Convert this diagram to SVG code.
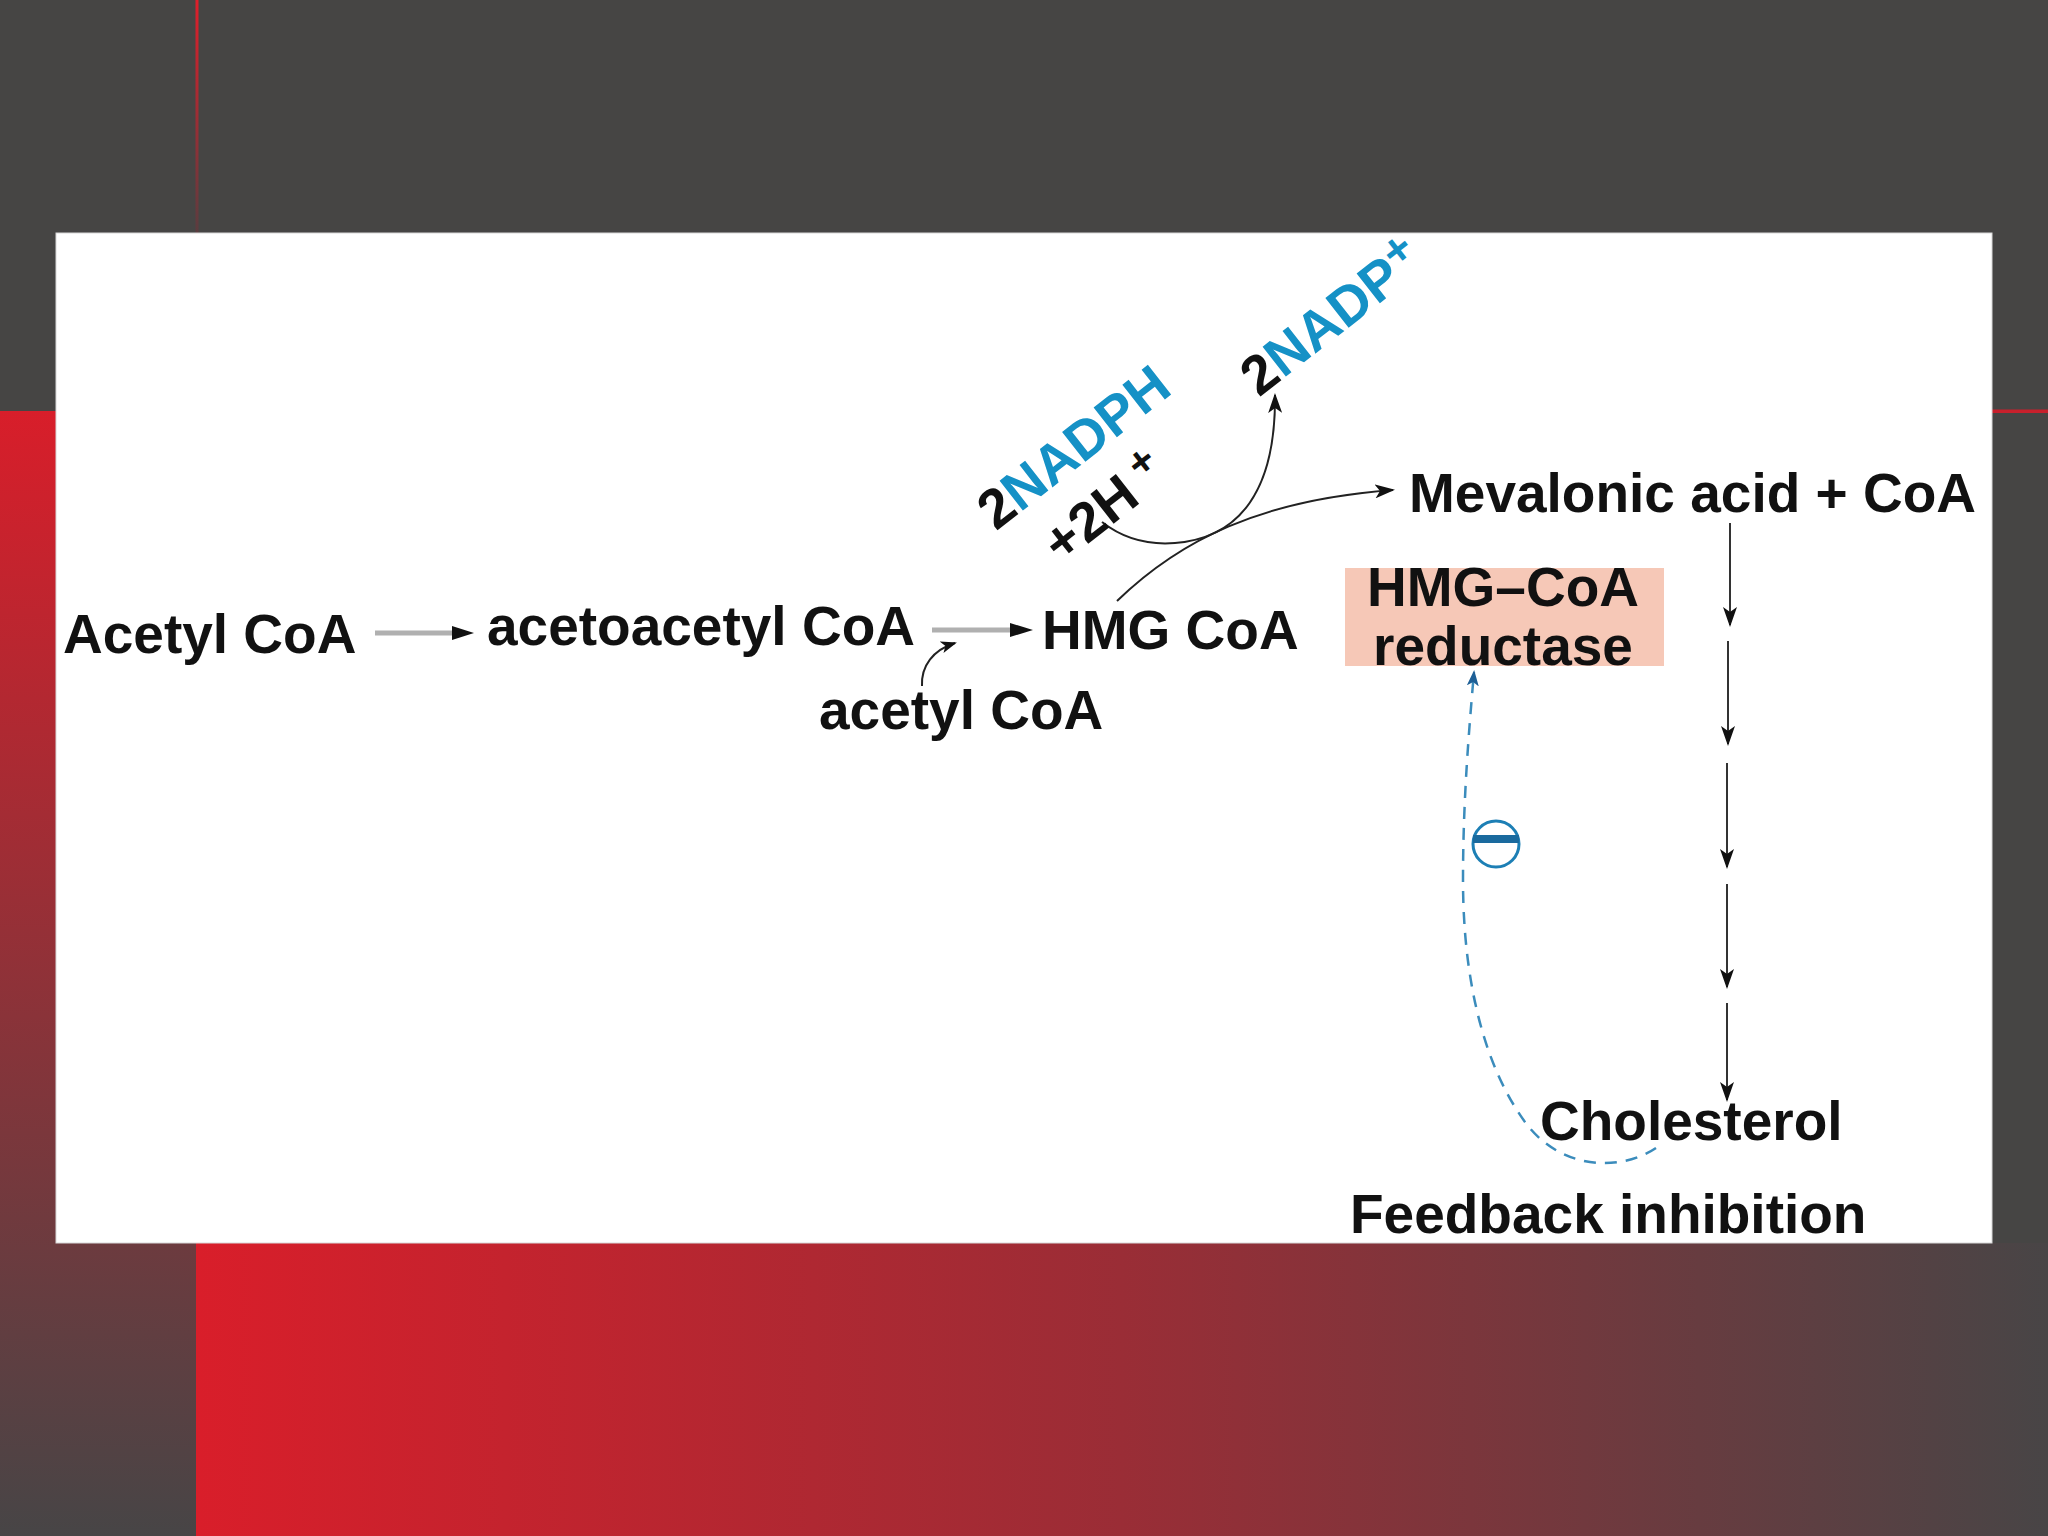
<svg xmlns="http://www.w3.org/2000/svg" width="2048" height="1536" viewBox="0 0 2048 1536">
<defs>
<linearGradient id="gLeft" x1="0" y1="0" x2="0" y2="1">
<stop offset="0" stop-color="#d81e2a"/>
<stop offset="1" stop-color="#474546"/>
</linearGradient>
<linearGradient id="gBottom" x1="0" y1="0" x2="1" y2="0">
<stop offset="0" stop-color="#d91e2a"/>
<stop offset="0.5" stop-color="#9a2d36"/>
<stop offset="1" stop-color="#484546"/>
</linearGradient>
<linearGradient id="gLine" x1="0" y1="0" x2="0" y2="1">
<stop offset="0" stop-color="#e01e2a"/>
<stop offset="1" stop-color="#5a3c3f"/>
</linearGradient>
<marker id="ah" viewBox="0 0 20 14" refX="18" refY="7" markerWidth="20" markerHeight="14" markerUnits="userSpaceOnUse" orient="auto">
<path d="M0,0 L20,7 L0,14 L5,7 Z" fill="#111"/>
</marker>
<marker id="ahs" viewBox="0 0 16 12" refX="14" refY="6" markerWidth="16" markerHeight="12" markerUnits="userSpaceOnUse" orient="auto">
<path d="M0,0 L16,6 L0,12 L4,6 Z" fill="#111"/>
</marker>
<marker id="ahb" viewBox="0 0 16 12" refX="14" refY="6" markerWidth="16" markerHeight="12" markerUnits="userSpaceOnUse" orient="auto">
<path d="M0,0 L16,6 L0,12 L4,6 Z" fill="#1d5f96"/>
</marker>
<style>
text{font-family:"Liberation Sans",Arial,sans-serif;font-weight:bold;font-size:55px;fill:#111}
.blue{fill:#1591c6}
.thin{fill:none;stroke:#222;stroke-width:2}
.gray{fill:none;stroke:#b0b0b0;stroke-width:5}
.step{fill:none;stroke:#333;stroke-width:2}
.dash{fill:none;stroke:#3b8cbc;stroke-width:2.5;stroke-dasharray:12 9}
</style>
</defs>
<g id="background">
<rect x="0" y="0" width="2048" height="1536" fill="#464544"/>
<rect x="0" y="411" width="197" height="1125" fill="url(#gLeft)"/>
<rect x="196" y="1243" width="1852" height="293" fill="url(#gBottom)"/>
<rect x="195.5" y="0" width="3" height="233" fill="url(#gLine)"/>
<rect x="1992" y="409.5" width="56" height="3.5" fill="#c8202c"/>
<rect x="56" y="233" width="1936" height="1010" fill="#ffffff" stroke="#d8d8d8" stroke-width="1"/>
</g>
<g id="connectors">
<line class="gray" x1="375" y1="633" x2="458" y2="633"/>
<path d="M452,626 L474,633 L452,640 Z" fill="#111"/>
<line class="gray" x1="932" y1="630" x2="1014" y2="630"/>
<path d="M1010,623 L1033,630 L1010,637 Z" fill="#111"/>
<path class="thin" d="M922,686 C921,666 933,650 955,643" marker-end="url(#ahs)"/>
<path class="thin" d="M1117,601 C1180,540 1260,500 1393,490" marker-end="url(#ah)"/>
<path class="thin" d="M1102,522 C1125,540 1150,545 1175,543 C1240,538 1276,490 1275,395" marker-end="url(#ah)"/>
<line class="step" x1="1730" y1="523" x2="1730" y2="625" marker-end="url(#ah)"/>
<line class="step" x1="1728" y1="641" x2="1728" y2="744" marker-end="url(#ah)"/>
<line class="step" x1="1727" y1="763" x2="1727" y2="867" marker-end="url(#ah)"/>
<line class="step" x1="1727" y1="884" x2="1727" y2="987" marker-end="url(#ah)"/>
<line class="step" x1="1727" y1="1003" x2="1727" y2="1100" marker-end="url(#ah)"/>
<path class="dash" d="M1656,1148 C1620,1172 1560,1170 1525,1122 C1480,1060 1463,970 1463,880 C1463,800 1469,730 1474,672" marker-end="url(#ahb)"/>
</g>
<g id="node-acetyl-coa"><text x="63" y="653">Acetyl CoA</text></g>
<g id="node-acetoacetyl-coa"><text x="487" y="645">acetoacetyl CoA</text></g>
<g id="node-acetyl-coa-2"><text x="819" y="729">acetyl CoA</text></g>
<g id="node-hmg-coa"><text x="1042" y="649">HMG CoA</text></g>
<g id="node-nadph">
<text transform="rotate(-38 1085 462)" x="1085" y="462" text-anchor="middle">2<tspan class="blue">NADPH</tspan></text>
<text transform="rotate(-38 1116 522)" x="1116" y="522" text-anchor="middle" font-size="52">+2H<tspan dy="-18" font-size="42"> +</tspan></text>
</g>
<g id="node-nadp">
<text transform="rotate(-38 1343 332)" x="1343" y="332" text-anchor="middle">2<tspan class="blue">NADP</tspan><tspan class="blue" dy="-16" font-size="46">+</tspan></text>
</g>
<g id="node-mevalonic"><text x="1409" y="512">Mevalonic acid + CoA</text></g>
<g id="node-hmg-coa-reductase">
<rect x="1345" y="568" width="319" height="98" fill="#f6c8b7"/>
<text text-anchor="middle" font-size="53"><tspan x="1503" y="606">HMG–CoA</tspan><tspan x="1503" y="665">reductase</tspan></text>
</g>
<g id="node-inhibition">
<circle cx="1496" cy="844" r="23" fill="#ffffff" stroke="#1d7fb5" stroke-width="3"/>
<rect x="1473" y="835" width="46" height="8" fill="#1a6a9e"/>
</g>
<g id="node-cholesterol"><text x="1540" y="1140">Cholesterol</text></g>
<g id="label-feedback"><text x="1350" y="1233" font-size="55.5">Feedback inhibition</text></g>
</svg>
